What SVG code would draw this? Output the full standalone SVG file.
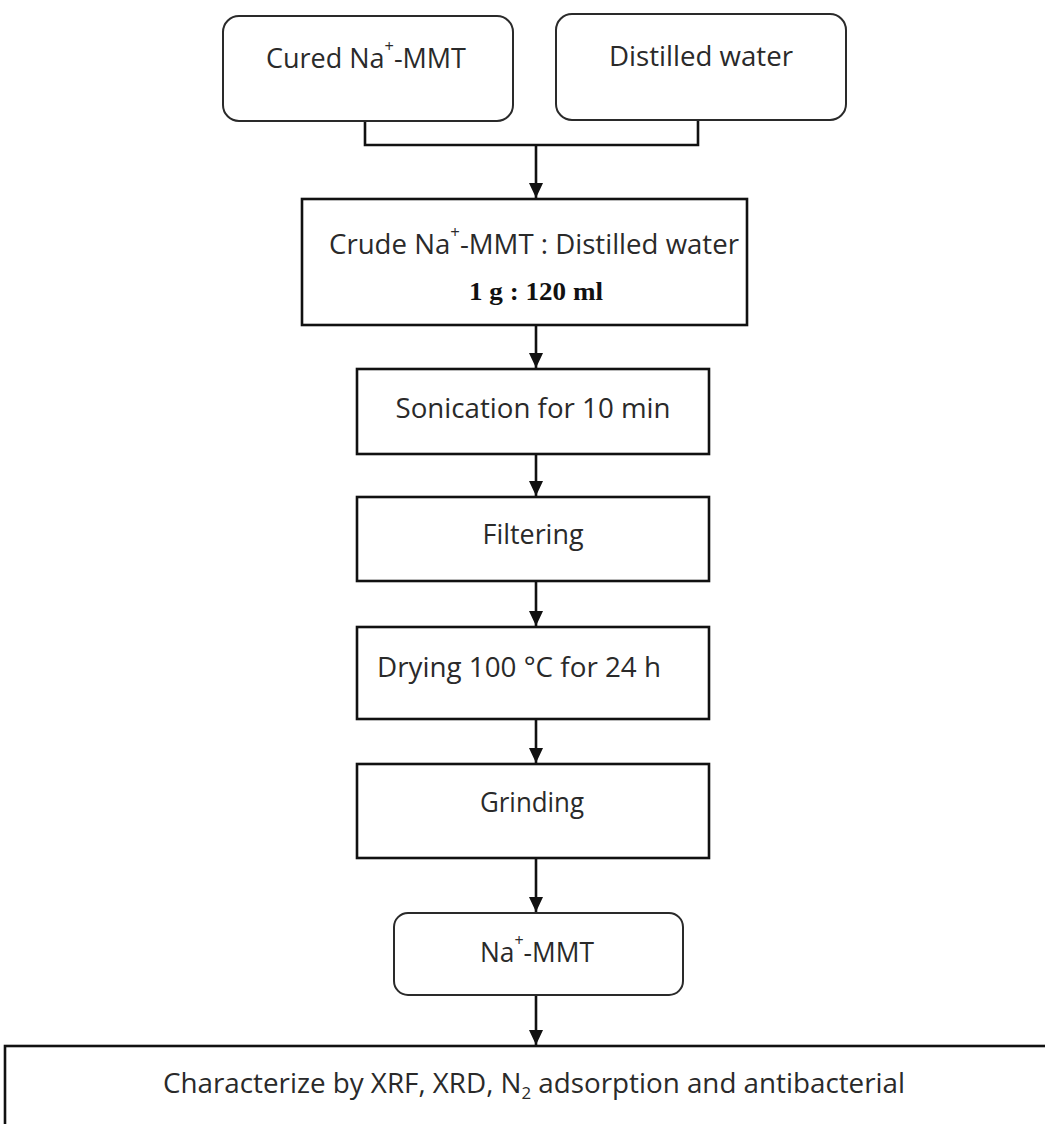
<svg xmlns="http://www.w3.org/2000/svg" width="1045" height="1124" viewBox="0 0 1045 1124">
<defs>
<marker id="arr" markerUnits="userSpaceOnUse" markerWidth="15" markerHeight="14" viewBox="0 0 15 14" refX="15" refY="7" orient="auto">
<path d="M0,0 L15,7 L0,14 Z" fill="#111"/>
</marker>
</defs>
<style>
.rr{fill:#fff;stroke:#2a2a2a;stroke-width:2}
.bx{fill:#fff;stroke:#111;stroke-width:2.6}
.t{font-family:"Open Sans","Noto Sans",sans-serif;font-size:28px;fill:#2a2a2a;text-anchor:middle}
.s{font-family:"Liberation Serif",serif;font-size:26px;fill:#111;text-anchor:middle;font-weight:bold}
.ln{fill:none;stroke:#111;stroke-width:2.6}
.sup{font-size:17px;baseline-shift:16px}
.sub{font-size:17px;baseline-shift:-6px}
</style>
<rect width="1045" height="1124" fill="#fff"/>
<g id="connectors">
<polyline class="ln" points="365,121 365,145 698,145 698,120"/>
<line class="ln" x1="536" y1="145" x2="536" y2="198" marker-end="url(#arr)"/>
<line class="ln" x1="536" y1="325" x2="536" y2="368" marker-end="url(#arr)"/>
<line class="ln" x1="536" y1="454" x2="536" y2="496" marker-end="url(#arr)"/>
<line class="ln" x1="536" y1="581" x2="536" y2="626" marker-end="url(#arr)"/>
<line class="ln" x1="536" y1="719" x2="536" y2="763" marker-end="url(#arr)"/>
<line class="ln" x1="536" y1="858" x2="536" y2="912" marker-end="url(#arr)"/>
<line class="ln" x1="536" y1="995" x2="536" y2="1045" marker-end="url(#arr)"/>
</g>
<g id="n1">
<rect class="rr" x="223" y="16" width="290" height="105" rx="16"/>
<text class="t" x="366" y="68" textLength="200" lengthAdjust="spacingAndGlyphs">Cured Na<tspan class="sup">+</tspan>-MMT</text>
</g>
<g id="n2">
<rect class="rr" x="556" y="14" width="290" height="106" rx="16"/>
<text class="t" x="701" y="66" textLength="184" lengthAdjust="spacingAndGlyphs">Distilled water</text>
</g>
<g id="n3">
<rect class="bx" x="302" y="199" width="445" height="126"/>
<text class="t" x="534" y="254" textLength="410" lengthAdjust="spacingAndGlyphs">Crude Na<tspan class="sup">+</tspan>-MMT : Distilled water</text>
<text class="s" x="536" y="300" textLength="134" lengthAdjust="spacingAndGlyphs">1 g : 120 ml</text>
</g>
<g id="n4">
<rect class="bx" x="357" y="369" width="352" height="85"/>
<text class="t" x="533" y="418" textLength="275" lengthAdjust="spacingAndGlyphs">Sonication for 10 min</text>
</g>
<g id="n5">
<rect class="bx" x="357" y="497" width="352" height="84"/>
<text class="t" x="533" y="544" textLength="101" lengthAdjust="spacingAndGlyphs">Filtering</text>
</g>
<g id="n6">
<rect class="bx" x="357" y="627" width="352" height="92"/>
<text class="t" x="519" y="677" textLength="284" lengthAdjust="spacingAndGlyphs">Drying 100 °C for 24 h</text>
</g>
<g id="n7">
<rect class="bx" x="357" y="764" width="352" height="94"/>
<text class="t" x="532" y="812" textLength="104" lengthAdjust="spacingAndGlyphs">Grinding</text>
</g>
<g id="n8">
<rect class="rr" x="394" y="913" width="289" height="82" rx="14"/>
<text class="t" x="537" y="962" textLength="114" lengthAdjust="spacingAndGlyphs">Na<tspan class="sup">+</tspan>-MMT</text>
</g>
<g id="n9">
<rect class="bx" x="5" y="1046" width="1060" height="100"/>
<text class="t" x="534" y="1093" textLength="742" lengthAdjust="spacingAndGlyphs">Characterize by XRF, XRD, N<tspan class="sub">2</tspan> adsorption and antibacterial</text>
</g>
</svg>
